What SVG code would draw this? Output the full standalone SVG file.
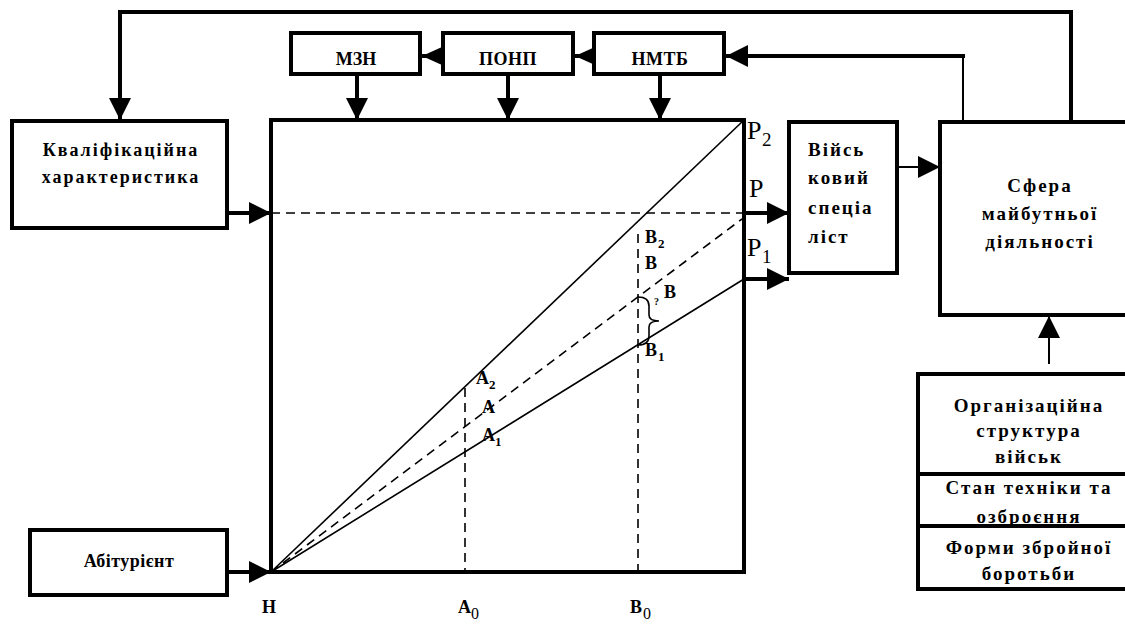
<svg xmlns="http://www.w3.org/2000/svg" width="1125" height="624" viewBox="0 0 1125 624">
<style>
.box{fill:#fff;stroke:#000;stroke-width:4}
.t{font-family:"Liberation Serif","Times New Roman",serif;font-weight:bold;fill:#000}
.c{text-anchor:middle}
.thick{fill:none;stroke:#000;stroke-width:4}
.thin{fill:none;stroke:#000;stroke-width:2}
.dash{fill:none;stroke:#000;stroke-width:1.6;stroke-dasharray:9 6}
.ln{fill:none;stroke:#000;stroke-width:1.6}
.p{font-family:"Liberation Serif","Times New Roman",serif;fill:#000}
.lbl{font-size:19px;letter-spacing:2px}
</style>
<defs>
<marker id="big" markerUnits="userSpaceOnUse" markerWidth="22" markerHeight="22" refX="22" refY="11" orient="auto"><path d="M0,0 L22,11 L0,22 Z" fill="#000"/></marker>
<marker id="small" markerUnits="userSpaceOnUse" markerWidth="20" markerHeight="18" refX="20" refY="9" orient="auto"><path d="M0,0 L20,9 L0,18 Z" fill="#000"/></marker>
</defs>
<rect width="1125" height="624" fill="#fff"/>

<g id="main-square"><rect class="box" x="271" y="120" width="473" height="452"/></g>

<g id="chart">
<line class="dash" x1="271" y1="213" x2="744" y2="213"/>
<line class="ln" x1="271" y1="572" x2="744" y2="120"/>
<line class="ln" x1="271" y1="572" x2="744" y2="279"/>
<line class="dash" x1="271" y1="572" x2="742" y2="219"/>
<line class="dash" x1="465" y1="388" x2="465" y2="572"/>
<line class="dash" x1="638" y1="234" x2="638" y2="572"/>
<path class="ln" d="M638,297 Q649,297 649,306 L649,315 Q649,321 659,321 Q649,321 649,327 L649,336 Q649,345 638,345"/>
<text class="t" x="645" y="243" font-size="18">B</text><text class="t" x="658" y="248" font-size="13">2</text>
<text class="t" x="645" y="269" font-size="18">B</text>
<text class="t" x="654" y="305" font-size="10">?</text><text class="t" x="664" y="298" font-size="18">B</text>
<text class="t" x="645" y="356" font-size="18">B</text><text class="t" x="658" y="361" font-size="13">1</text>
<text class="t" x="476" y="384" font-size="18">A</text><text class="t" x="489" y="389" font-size="13">2</text>
<text class="t" x="482" y="413" font-size="18">A</text>
<text class="t" x="482" y="441" font-size="18">A</text><text class="t" x="495" y="446" font-size="13">1</text>
<text class="p" x="747" y="139" font-size="26">P</text><text class="p" x="762" y="146" font-size="19">2</text>
<text class="p" x="749" y="197" font-size="26">P</text>
<text class="p" x="747" y="256" font-size="26">P</text><text class="p" x="762" y="263" font-size="19">1</text>
<text class="t" x="262" y="613" font-size="18">Н</text>
<text class="t" x="458" y="613" font-size="18">A</text><text class="p" x="471" y="619" font-size="16">0</text>
<text class="t" x="630" y="613" font-size="18">B</text><text class="p" x="643" y="619" font-size="16">0</text>
</g>

<g id="connectors">
<path class="thick" d="M1071,122 V12 H120 V120" marker-end="url(#big)"/>
<path class="thin" d="M963,122 V56"/>
<line class="thick" x1="965" y1="56" x2="726" y2="56" marker-end="url(#big)"/>
<line class="thick" x1="594" y1="56" x2="575" y2="56" marker-end="url(#small)"/>
<line class="thick" x1="443" y1="56" x2="422" y2="56" marker-end="url(#small)"/>
<line class="thick" x1="357" y1="74" x2="357" y2="120" marker-end="url(#big)"/>
<line class="thick" x1="508" y1="74" x2="508" y2="120" marker-end="url(#big)"/>
<line class="thick" x1="660" y1="74" x2="660" y2="120" marker-end="url(#big)"/>
<line class="thick" x1="227" y1="213" x2="271" y2="213" marker-end="url(#big)"/>
<line class="thick" x1="227" y1="572" x2="271" y2="572" marker-end="url(#big)"/>
<line class="thick" x1="744" y1="213" x2="789" y2="213" marker-end="url(#big)"/>
<line class="thick" x1="744" y1="279" x2="789" y2="279" marker-end="url(#big)"/>
<line class="thin" x1="897" y1="167" x2="940" y2="167" marker-end="url(#big)"/>
<line class="thin" x1="1049" y1="364" x2="1049" y2="316" marker-end="url(#big)"/>
</g>

<g id="mzn"><rect class="box" x="291" y="33" width="129" height="41"/><text class="t c" x="356" y="65" font-size="18">МЗН</text></g>
<g id="ponp"><rect class="box" x="443" y="33" width="130" height="41"/><text class="t c" x="508" y="65" font-size="18" letter-spacing="0.5">ПОНП</text></g>
<g id="nmtb"><rect class="box" x="594" y="33" width="130" height="41"/><text class="t c" x="660" y="65" font-size="18" letter-spacing="0.5">НМТБ</text></g>

<g id="kvalifikatsiina"><rect class="box" x="12" y="121" width="215" height="107"/>
<text class="t c lbl" x="121" y="156" style="font-size:18px">Кваліфікаційна</text>
<text class="t c lbl" x="121" y="183" style="font-size:18px">характеристика</text></g>

<g id="abiturient"><rect class="box" x="30" y="530" width="197" height="65"/>
<text class="t c" x="129" y="567" font-size="18" letter-spacing="0.5">Абітурієнт</text></g>

<g id="viiskovyi"><rect class="box" x="789" y="122" width="108" height="151"/>
<text class="t lbl" x="808" y="156">Війсь</text>
<text class="t lbl" x="808" y="184">ковий</text>
<text class="t lbl" x="808" y="214">спеціа</text>
<text class="t lbl" x="808" y="243">ліст</text></g>

<g id="sfera"><rect class="box" x="940" y="122" width="200" height="193"/>
<text class="t c lbl" x="1040" y="192">Сфера</text>
<text class="t c lbl" x="1040" y="220">майбутньої</text>
<text class="t c lbl" x="1040" y="248">діяльності</text></g>

<g id="factors"><rect class="box" x="918" y="374" width="222" height="215"/>
<line class="thick" x1="918" y1="474" x2="1125" y2="474" stroke-width="3"/>
<line class="thick" x1="918" y1="526" x2="1125" y2="526" stroke-width="3"/>
<text class="t c lbl" x="1029" y="412">Організаційна</text>
<text class="t c lbl" x="1029" y="437">структура</text>
<text class="t c lbl" x="1029" y="463">військ</text>
<text class="t c lbl" x="1029" y="494">Стан техніки та</text>
<text class="t c lbl" x="1029" y="523">озброєння</text>
<text class="t c lbl" x="1029" y="554">Форми збройної</text>
<text class="t c lbl" x="1029" y="580">боротьби</text></g>
</svg>
